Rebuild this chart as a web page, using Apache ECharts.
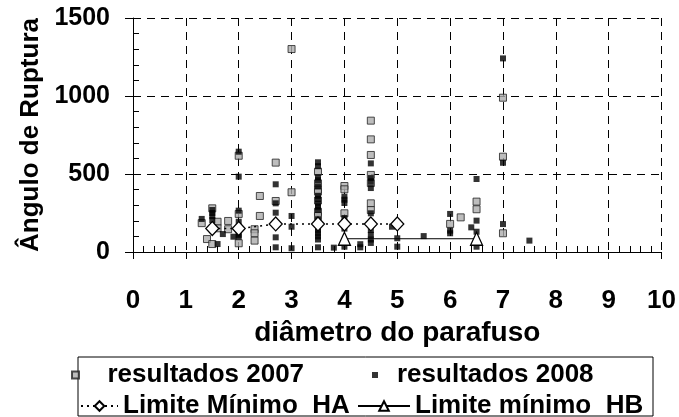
<!DOCTYPE html>
<html>
<head>
<meta charset="utf-8">
<script src="https://cdn.jsdelivr.net/npm/echarts@6/dist/echarts.min.js"></script>
<style>
  html, body { margin: 0; padding: 0; background: #fff; }
  #chart { width: 679px; height: 417px; }
</style>
</head>
<body>
<div id="chart"></div>
<script>
// resultados 2007 (grey squares) [diametro, angulo]
const dados2007 = [
  [1.3, 185], [1.4, 83], [1.5, 280], [1.5, 51], [1.6, 194], [1.6, 152], [1.8, 199], [1.8, 146],
  [2, 617], [2, 244], [2, 56],
  [2.3, 146], [2.3, 120], [2.3, 73], [2.4, 359], [2.4, 231],
  [2.7, 573], [2.7, 327],
  [3, 1301], [3, 383],
  [3.5, 515], [3.5, 440], [3.5, 400], [3.5, 387], [3.5, 330], [3.5, 258], [3.5, 230],
  [4, 423], [4, 402], [4, 248],
  [4.5, 842], [4.5, 722], [4.5, 622], [4.5, 494], [4.5, 442], [4.5, 312], [4.5, 269],
  [6, 180], [6.2, 222], [6.5, 323], [6.5, 274],
  [7, 989], [7, 611], [7, 120]
];

// resultados 2008 (black squares)
const dados2008 = [
  [1.3, 212], [1.5, 269], [1.5, 250], [1.5, 230], [1.5, 205], [1.6, 51], [1.7, 115], [1.9, 98],
  [2, 643], [2, 483], [2, 265], [2, 194], [2, 110], [2, 98],
  [2.7, 434], [2.7, 312], [2.7, 252], [2.7, 94], [2.7, 30],
  [3, 231], [3, 162], [3, 24],
  [3.5, 575], [3.5, 550], [3.5, 480], [3.5, 460], [3.5, 420], [3.5, 360], [3.5, 340], [3.5, 310],
  [3.5, 290], [3.5, 270], [3.5, 210], [3.5, 190], [3.5, 160], [3.5, 140], [3.5, 120], [3.5, 100],
  [3.5, 80], [3.5, 30],
  [3.8, 28],
  [4, 354], [4, 335], [4, 314], [4, 218], [4, 150], [4, 34],
  [4.3, 50], [4.3, 30],
  [4.5, 568], [4.5, 474], [4.5, 450], [4.5, 410], [4.5, 248], [4.5, 141], [4.5, 110], [4.5, 80], [4.5, 58],
  [4.9, 162], [5, 88], [5, 34],
  [5.5, 102],
  [6, 244], [6, 137], [6, 120],
  [6.4, 158], [6.5, 468], [6.5, 201], [6.5, 130], [6.5, 34],
  [7, 1241], [7, 572], [7, 179],
  [7.5, 73]
];

const limiteHA = [[1.5, 150], [2, 150], [2.7, 180], [3.5, 180], [4, 180], [4.5, 180], [5, 180]];
const limiteHB = [[4, 85], [6.5, 85]];

const xTicks = [0, 1, 2, 3, 4, 5, 6, 7, 8, 9, 10];
const yTicks = [0, 500, 1000, 1500];

const font = 'Liberation Sans, Arial, sans-serif';
const squareIcon = 'path://M0,0H10V10H0Z';
const chart = echarts.init(document.getElementById('chart'), null, { renderer: 'canvas' });

const legendText = { fontFamily: font, fontWeight: 'bold', fontSize: 26, color: '#000' };

// one legend per entry so each icon/text can sit where it is in the original
function legendItem(name, left, top, w, h, icon) {
  const item = icon ? { name: name, icon: icon } : { name: name };
  return {
    data: [item],
    left: left, top: top,
    padding: 0,
    itemWidth: w, itemHeight: h,
    symbolKeepAspect: true,
    selectedMode: false,
    textStyle: legendText
  };
}

const option = {
  backgroundColor: '#fff',
  animation: false,
  grid: { left: 133, right: 17, top: 18, bottom: 165, show: false },
  xAxis: {
    type: 'value',
    min: xTicks[0],
    max: xTicks[xTicks.length - 1],
    interval: 1,
    name: 'diâmetro do parafuso',
    nameLocation: 'middle',
    nameGap: 57,
    nameTextStyle: { fontFamily: font, fontWeight: 'bold', fontSize: 28, color: '#000' },
    axisLine: { lineStyle: { color: '#000', width: 1 } },
    axisTick: { show: true, length: 7, lineStyle: { color: '#000' } },
    minorTick: { show: true, splitNumber: 5, length: -6, lineStyle: { color: '#000' } },
    axisLabel: { margin: 36, fontFamily: font, fontWeight: 'bold', fontSize: 26, color: '#000' },
    splitLine: { show: true, lineStyle: { color: '#000', type: [8, 6], width: 1 } }
  },
  yAxis: {
    type: 'value',
    min: yTicks[0],
    max: yTicks[yTicks.length - 1],
    interval: 500,
    name: 'Ângulo de Ruptura',
    nameLocation: 'middle',
    nameGap: 83,
    nameTextStyle: { fontFamily: font, fontWeight: 'bold', fontSize: 26, color: '#000' },
    axisLine: { show: true, lineStyle: { color: '#000', width: 1 } },
    axisTick: { show: true, length: 8, lineStyle: { color: '#000' } },
    minorTick: { show: true, splitNumber: 5, length: -6, lineStyle: { color: '#000' } },
    axisLabel: {
      margin: 23, fontFamily: font, fontWeight: 'bold', fontSize: 25, color: '#000',
      formatter: v => String(v)
    },
    splitLine: { show: true, lineStyle: { color: '#000', type: [8, 6], width: 1 } }
  },
  graphic: [{
    type: 'rect',
    shape: { x: 78, y: 357, width: 575, height: 59 },
    style: { fill: '#fff', stroke: '#000', lineWidth: 1 },
    z: 0
  }],
  legend: [
    legendItem('resultados 2007', 71, 362, 54, 7, squareIcon),
    legendItem('resultados 2008', 372, 362, 34, 6, squareIcon),
    legendItem('Limite Mínimo  HA', 80, 393, 37, 12),
    legendItem('Limite mínimo  HB', 357, 393, 52, 12)
  ],
  series: [
    {
      name: 'resultados 2007',
      type: 'scatter',
      symbol: 'rect',
      symbolSize: 7,
      itemStyle: { color: '#adadad', borderColor: '#222', borderWidth: 1 },
      data: dados2007
    },
    {
      name: 'resultados 2008',
      type: 'scatter',
      symbol: 'rect',
      symbolSize: 6,
      itemStyle: { color: '#000' },
      data: dados2008
    },
    {
      name: 'Limite Mínimo  HA',
      type: 'line',
      symbol: 'diamond',
      symbolSize: [13, 14],
      showAllSymbol: true,
      itemStyle: { color: '#fff', borderColor: '#000', borderWidth: 1.3 },
      lineStyle: { color: '#000', width: 1.5, type: [2, 4] },
      data: limiteHA,
      z: 5
    },
    {
      name: 'Limite mínimo  HB',
      type: 'line',
      symbol: 'triangle',
      symbolSize: [12, 13],
      showAllSymbol: true,
      itemStyle: { color: '#fff', borderColor: '#000', borderWidth: 1.3 },
      lineStyle: { color: '#000', width: 1 },
      data: limiteHB,
      z: 5
    }
  ]
};

chart.setOption(option);
</script>
</body>
</html>
